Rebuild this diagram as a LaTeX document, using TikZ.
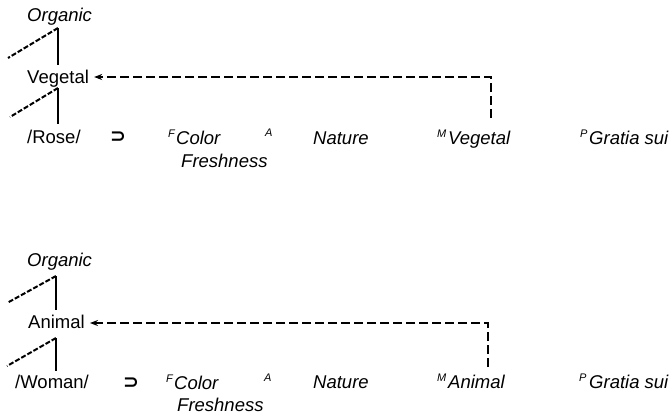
\documentclass[tikz,border=0pt]{standalone}
\usepackage{fontspec}
\setmainfont{Liberation Sans}
\newfontfamily\symfont{DejaVu Sans}
\usetikzlibrary{arrows.meta}
\tikzset{
  lbl/.style={inner sep=0pt, anchor=base west, font=\fontsize{18.5}{22}\selectfont},
  ilbl/.style={lbl, font=\fontsize{18.5}{22}\selectfont\itshape},
  supl/.style={inner sep=0pt, anchor=base west, font=\fontsize{11}{12}\selectfont\itshape},
  symb/.style={inner sep=0pt, anchor=west, font=\symfont\bfseries\fontsize{19}{22}\selectfont},
  treeline/.style={line width=2pt},
  slantline/.style={line width=2pt, dash pattern=on 5pt off 2pt},
  link/.style={line width=2pt, dash pattern=on 9pt off 4pt, -{Stealth[length=8pt,width=6pt]}},
}
\begin{document}
\begin{tikzpicture}[x=1pt,y=-1pt]
\useasboundingbox (0,0) rectangle (671,416);
% ---------- top ----------
\node[ilbl] (org1) at (27,21) {Organic};
\node[lbl] (veg1) at (27,83) {Vegetal};
\node[lbl] (rose) at (27,143) {/Rose/};
\node[symb] (sup1) at (110,137) {⊃};
\node[supl] (f1) at (168,137) {F};
\node[ilbl] (col1) at (176,144) {Color};
\node[ilbl] (fr1) at (181,167) {Freshness};
\node[supl] (a1) at (265,136) {A};
\node[ilbl] (nat1) at (313,144) {Nature};
\node[supl] (m1) at (437,137) {M};
\node[ilbl] (mv1) at (448,144) {Vegetal};
\node[supl] (p1) at (580,137) {P};
\node[ilbl] (gs1) at (589,144) {Gratia sui};
\coordinate (t1a) at (58,28);
\coordinate (t1b) at (58,65);
\coordinate (t1c) at (8,58);
\coordinate (t2a) at (58,88);
\coordinate (t2b) at (58,124);
\coordinate (t2c) at (10,117);
\draw[treeline] (t1a) -- (t1b);
\draw[slantline] (t1a) -- (t1c);
\draw[treeline] (t2a) -- (t2b);
\draw[slantline] (t2a) -- (t2c);
\coordinate (e1) at (491,118);
\draw[link] (e1) -- (491,77) -- ([xshift=5pt]veg1.east |- 0,77);
% ---------- bottom ----------
\node[ilbl] (org2) at (27,266) {Organic};
\node[lbl] (ani2) at (28,328) {Animal};
\node[lbl] (wom) at (15,388) {/Woman/};
\node[symb] (sup2) at (123,383) {⊃};
\node[supl] (f2) at (166,382) {F};
\node[ilbl] (col2) at (174,389) {Color};
\node[ilbl] (fr2) at (177,411) {Freshness};
\node[supl] (a2) at (264,381) {A};
\node[ilbl] (nat2) at (313,388) {Nature};
\node[supl] (m2) at (437,381) {M};
\node[ilbl] (ma2) at (448,388) {Animal};
\node[supl] (p2) at (579,381) {P};
\node[ilbl] (gs2) at (589,388) {Gratia sui};
\coordinate (b1a) at (56,276);
\coordinate (b1b) at (56,310);
\coordinate (b1c) at (7,303);
\coordinate (b2a) at (56,338);
\coordinate (b2b) at (56,371);
\coordinate (b2c) at (7,366);
\draw[treeline] (b1a) -- (b1b);
\draw[slantline] (b1a) -- (b1c);
\draw[treeline] (b2a) -- (b2b);
\draw[slantline] (b2a) -- (b2c);
\coordinate (e2) at (488,367);
\draw[link] (e2) -- (488,323) -- ([xshift=5pt]ani2.east |- 0,323);
\end{tikzpicture}
\end{document}
